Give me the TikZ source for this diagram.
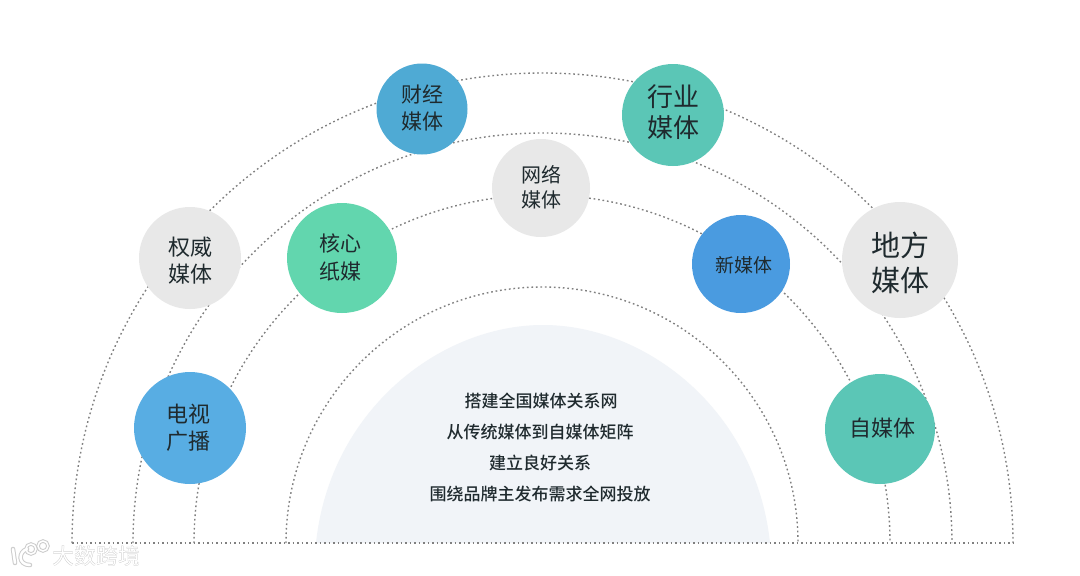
\documentclass[tikz,border=0pt]{standalone}
\usepackage{fontspec}
\setmainfont{Noto Sans CJK SC}
\newfontfamily\cjkmed{Noto Sans CJK SC Medium}
\definecolor{dotgray}{HTML}{808080}
\definecolor{bluea}{HTML}{4FAAD4}
\definecolor{blueb}{HTML}{4A9BE0}
\definecolor{bluec}{HTML}{58ADE3}
\definecolor{teala}{HTML}{5BC6B6}
\definecolor{tealb}{HTML}{62D6AE}
\definecolor{graya}{HTML}{E8E8E8}
\definecolor{corefill}{HTML}{F1F4F8}
\definecolor{inktext}{HTML}{1F2A2E}
\tikzset{
  x=1pt,y=-1pt,
  orbit/.style={draw=dotgray,line width=1.4pt,dash pattern=on 1.7pt off 2.8pt},
  medianode/.style={circle,inner sep=0pt},
  medialabel/.style={inner sep=0pt,align=center,text=inktext},
  fs/.style 2 args={font=\fontsize{#1}{#2}\selectfont},
  coreline/.style={font=\cjkmed\fontsize{17}{17}\selectfont,text=inktext,anchor=center},
}
\begin{document}
\begin{tikzpicture}
\useasboundingbox (0,0) rectangle (1080,576);
\fill[white] (0,0) rectangle (1080,576);
% core dome
\fill[corefill] (316,543) .. controls (330,410) and (440,325) .. (543,325) .. controls (646,325) and (756,410) .. (770,543) -- cycle;
% orbits
\draw[orbit] (72,543) arc[start angle=180,end angle=0,x radius=470.5,y radius=-470];
\draw[orbit] (133,543) arc[start angle=180,end angle=0,x radius=409.5,y radius=-410];
\draw[orbit] (194,543) arc[start angle=180,end angle=0,x radius=348,y radius=-348];
\draw[orbit] (286,543) arc[start angle=180,end angle=0,x radius=256,y radius=-256];
\draw[orbit] (72,543) -- (1013,543);
% circles
\node[medianode,fill=bluea,minimum size=91pt] (caijing) at (422,109) {};
\node[medialabel,fs={21}{27}] (caijingt) at (422,108) {财经\\媒体};
\node[medianode,fill=teala,minimum size=102pt] (hangye) at (673,115) {};
\node[medialabel,fs={26}{31}] (hangyet) at (673,112) {行业\\媒体};
\node[medianode,fill=graya,minimum size=98pt] (wangluo) at (541,188) {};
\node[medialabel,fs={20}{25}] (wangluot) at (541,187) {网络\\媒体};
\node[medianode,fill=tealb,minimum size=110pt] (hexin) at (342,258) {};
\node[medialabel,fs={21}{28}] (hexint) at (340,257) {核心\\纸媒};
\node[medianode,fill=graya,minimum size=102pt] (quanwei) at (190,258) {};
\node[medialabel,fs={22}{27}] (quanweit) at (190,261) {权威\\媒体};
\node[medianode,fill=blueb,minimum size=98pt] (xin) at (741,264) {};
\node[medialabel,fs={19}{24}] (xint) at (744,265) {新媒体};
\node[medianode,fill=graya,minimum size=116pt] (difang) at (900,260) {};
\node[medialabel,fs={29}{35}] (difangt) at (900,263) {地方\\媒体};
\node[medianode,fill=bluec,minimum size=112pt] (dianshi) at (190,428) {};
\node[medialabel,fs={22}{27}] (dianshit) at (188,428) {电视\\广播};
\node[medianode,fill=teala,minimum size=110pt] (zimeiti) at (880,429) {};
\node[medialabel,fs={22}{27}] (zimeitit) at (882,428) {自媒体};
% core text
\node[coreline] (c1) at (541,401) {搭建全国媒体关系网};
\node[coreline] (c2) at (540,432) {从传统媒体到自媒体矩阵};
\node[coreline] (c3) at (540,463) {建立良好关系};
\node[coreline] (c4) at (540,494) {围绕品牌主发布需求全网投放};
% watermark
\begin{scope}[line width=4.5pt,draw=gray!40]
\draw[line cap=round] (13,549) -- (15,563);
\draw[line cap=round] (27,549) .. controls (18,552) and (18,565) .. (30,565);
\draw[line width=3.5pt] (31,549) circle[radius=5];
\draw[line width=3.5pt] (43,546) circle[radius=5];
\end{scope}
\begin{scope}[line width=2.5pt,draw=white]
\draw[line cap=round] (13,549) -- (15,563);
\draw[line cap=round] (27,549) .. controls (18,552) and (18,565) .. (30,565);
\draw[line width=1.5pt] (31,549) circle[radius=5];
\draw[line width=1.5pt] (43,546) circle[radius=5];
\end{scope}
\node[font=\cjkmed\fontsize{22}{22}\selectfont,text=gray!60,anchor=west,inner sep=0pt] (wmshadow) at (52.5,556.5) {大数跨境};
\node[font=\fontsize{22}{22}\selectfont,text=white,anchor=west,inner sep=0pt] (wm) at (52,556) {大数跨境};
\end{tikzpicture}
\end{document}
